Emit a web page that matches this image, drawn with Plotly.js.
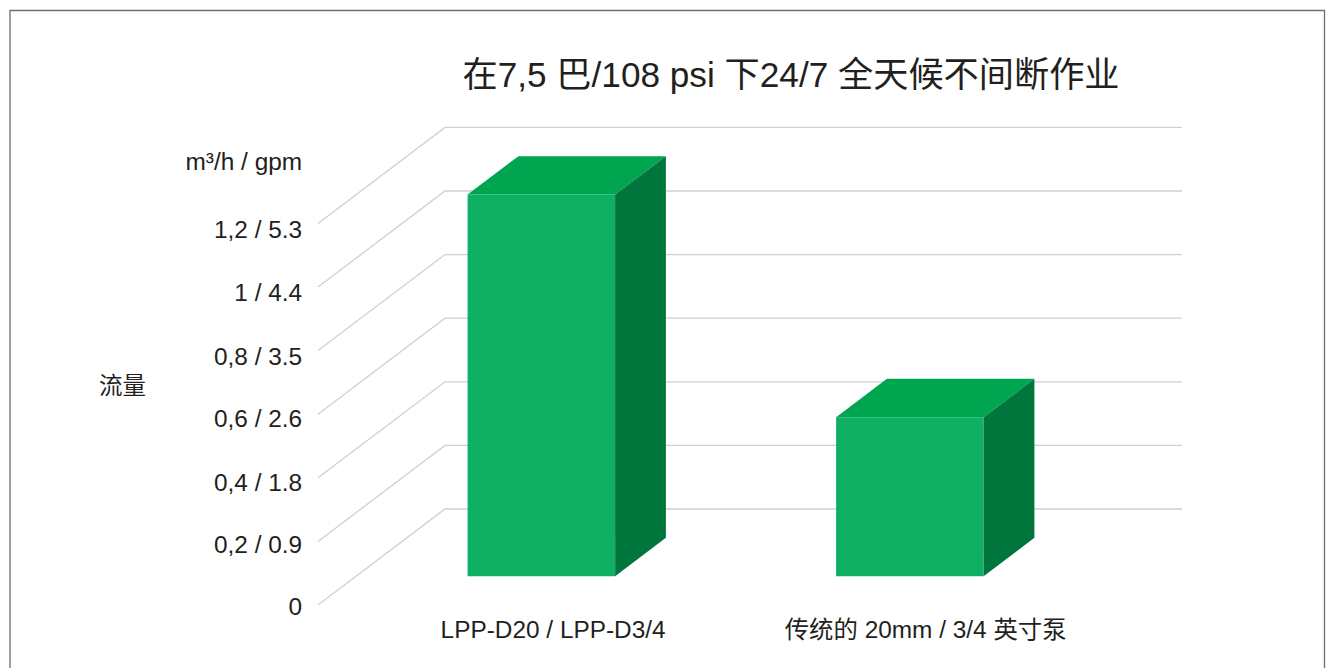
<!DOCTYPE html>
<html>
<head>
<meta charset="utf-8">
<script src="https://cdn.plot.ly/plotly-3.0.1.min.js"></script>
<style>html,body{margin:0;padding:0;background:#fff;overflow:hidden}#chart{width:1329px;height:668px}</style>
</head>
<body>
<div id="chart"></div>
<script>
const categories = ["LPP-D20 / LPP-D3/4", "传统的 20mm / 3/4 英寸泵"];
const flowValues = [1.2, 0.5];
const gridValues = [0, 0.2, 0.4, 0.6, 0.8, 1.0, 1.2];
const labelValues = [-0.006, 0.189, 0.386, 0.587, 0.783, 0.984, 1.182, 1.396];
const tickLabels = ["0", "0,2 / 0.9", "0,4 / 1.8", "0,6 / 2.6", "0,8 / 3.5", "1 / 4.4", "1,2 / 5.3", "m³/h / gpm"];
const categoryLabelPos = [0.638, 1.649];
const titleText = "在7,5 巴/108 psi 下24/7 全天候不间断作业";
const yTitleText = "流量";

const FONT = '"Liberation Sans","Noto Sans CJK SC",Arial,sans-serif';
const W = 1329, H = 668;
const X0 = 318, Y0 = 605;                    // pixel of category 0 / flow 0 on the front edge
const L = 310, R = 1190, T = 120, B = 608;   // plot box in pixels, a little wider than the grid
const catPx = 368.5, valPx = 318;            // pixels per category / per unit of flow
const depthX = 127 / catPx, depthY = 96 / valPx; // oblique offset of the full floor depth
const barW = 147.5 / catPx, barShift = 1 / catPx, d0 = 0.3, d1 = 0.7; // bar width, nudge and depth slice

const proj = (x, v, d) => [x + d * depthX, v + d * depthY];
const xs = p => p.map(q => q[0]), ys = p => p.map(q => q[1]);
const poly = (pts, color) => ({
  type: 'scatter', mode: 'lines', xaxis: 'x2', yaxis: 'y2', x: xs(pts), y: ys(pts), fill: 'toself', fillcolor: color,
  line: {width: 0, color: color}, hoverinfo: 'skip', showlegend: false
});

const traces = [];
// grid: floor edge + back wall, on the lower axes
gridValues.forEach(v => {
  const pts = [proj(0, v, 0), proj(0, v, 1), proj(2, v, 1)];
  traces.push({type: 'scatter', mode: 'lines', x: xs(pts), y: ys(pts),
    line: {color: '#d0d0d0', width: 1.3}, hoverinfo: 'skip', showlegend: false});
});
// bars, on the overlaying axes so they hide the grid
categories.forEach((c, i) => {
  const v = flowValues[i], mid = i + 0.5 + barShift, a = mid - barW / 2, b = mid + barW / 2;
  traces.push(poly([proj(a, v, d0), proj(a, v, d1), proj(b, v, d1), proj(b, v, d0), proj(a, v, d0)], '#00a550'));
  traces.push(poly([proj(b, 0, d0), proj(b, 0, d1), proj(b, v, d1), proj(b, v, d0), proj(b, 0, d0)], '#00763c'));
  const f0 = proj(mid, 0, d0);
  traces.push({type: 'bar', xaxis: 'x2', yaxis: 'y2', x: [f0[0]], y: [v], base: [f0[1]], width: [barW],
    marker: {color: '#0fb063', line: {width: 0}}, hoverinfo: 'skip', showlegend: false});
});

const xRange = [(L - X0) / catPx, (R - X0) / catPx], yRange = [(Y0 - B) / valPx, (Y0 - T) / valPx];
const layout = {
  width: W, height: H,
  margin: {l: L, r: W - R, t: T, b: H - B, pad: 0},
  paper_bgcolor: '#fff', plot_bgcolor: 'rgba(0,0,0,0)',
  showlegend: false, barmode: 'overlay',
  font: {family: FONT, color: '#231f20', size: 24},
  title: {text: titleText, font: {family: FONT, size: 35.2, color: '#231f20'},
    x: 791 / W, xanchor: 'center', y: 1 - 75 / H, yanchor: 'middle'},
  xaxis: {
    range: xRange, showgrid: false, zeroline: false, showline: false, fixedrange: true,
    tickmode: 'array', tickvals: categoryLabelPos, ticktext: categories,
    ticks: '', ticklabelstandoff: 5, tickfont: {family: FONT, size: 24.4, color: '#231f20'}
  },
  yaxis: {
    range: yRange, showgrid: false, zeroline: false, showline: false, fixedrange: true,
    tickmode: 'array', tickvals: labelValues, ticktext: tickLabels,
    ticks: 'outside', ticklen: 2, tickcolor: 'rgba(0,0,0,0)', tickfont: {family: FONT, size: 24.4, color: '#231f20'}
  },
  xaxis2: {overlaying: 'x', range: xRange, visible: false, fixedrange: true},
  yaxis2: {overlaying: 'y', range: yRange, visible: false, fixedrange: true},
  annotations: [{text: yTitleText, xref: 'paper', yref: 'paper',
    x: (122.5 - L) / (R - L), y: (B - 386) / (B - T), xanchor: 'center', yanchor: 'middle',
    showarrow: false, font: {family: FONT, size: 23.5, color: '#231f20'}}],
  shapes: [{type: 'rect', xref: 'paper', yref: 'paper',
    x0: (10 - L) / (R - L), x1: (1324.5 - L) / (R - L),
    y0: (B - 690) / (B - T), y1: (B - 10.5) / (B - T),
    line: {color: '#6e6e6e', width: 1.3}, fillcolor: 'rgba(0,0,0,0)', layer: 'below'}]
};
Plotly.newPlot('chart', traces, layout, {displayModeBar: false, staticPlot: true});
</script>
</body>
</html>
